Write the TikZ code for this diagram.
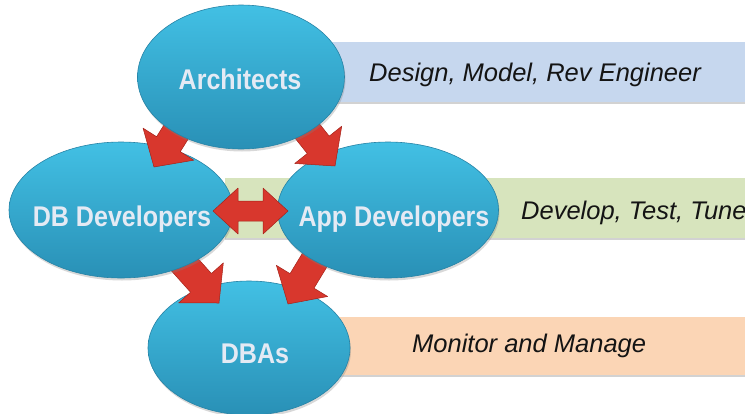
\documentclass[tikz,border=0pt]{standalone}
\usepackage{fontspec}
\setmainfont{Liberation Sans}
\newfontfamily\labelfont[FakeStretch=0.88]{Liberation Sans}
\usetikzlibrary{calc,shadows,shapes.geometric}

\definecolor{ellTop}{HTML}{42C0E4}
\definecolor{ellBot}{HTML}{2990B6}
\definecolor{ellRim}{HTML}{2683A6}
\definecolor{lblCol}{HTML}{E4EAF4}
\definecolor{arrRed}{HTML}{D8372D}
\definecolor{arrDark}{HTML}{A52219}
\definecolor{barBlue}{HTML}{C6D7EE}
\definecolor{barGreen}{HTML}{D7E4BD}
\definecolor{barOrange}{HTML}{FBD5B5}

\tikzset{
  role/.style={ellipse, inner sep=0pt, top color=ellTop, bottom color=ellBot,
    draw=ellRim, line width=0.6pt,
    drop shadow={opacity=0.3, shadow xshift=1pt, shadow yshift=-2.5pt}},
  rolelabel/.style={inner sep=0pt, anchor=base, text=lblCol,
    font=\labelfont\bfseries\fontsize{28.5}{32}\selectfont},
  bar/.style={draw=none, inner sep=0pt,
    drop shadow={opacity=0.35, shadow xshift=0pt, shadow yshift=-2pt}},
  bartext/.style={inner sep=0pt, anchor=base west, text=black!92,
    font=\itshape\fontsize{25.5}{30}\selectfont},
  blockarr/.style={fill=arrRed, draw=arrDark, line width=0.5pt, line join=round}
}

% single block arrow: id, start, tip, shaft half-width, head half-width, head length
\newcommand\blockarrow[6]{%
  \coordinate (#1b) at ($(#3)!#6!(#2)$);
  \draw[blockarr] ($(#2)!#4!90:(#3)$) -- ($(#1b)!#4!90:(#3)$) -- ($(#1b)!#5!90:(#3)$)
    -- (#3) -- ($(#1b)!#5!-90:(#3)$) -- ($(#1b)!#4!-90:(#3)$) -- ($(#2)!#4!-90:(#3)$) -- cycle;
}
% double block arrow: id, tip A, tip B, shaft half-width, head half-width, head length
\newcommand\dblarrow[6]{%
  \coordinate (#1a) at ($(#2)!#6!(#3)$);
  \coordinate (#1b) at ($(#3)!#6!(#2)$);
  \draw[blockarr] (#2) -- ($(#1a)!#5!90:(#3)$) -- ($(#1a)!#4!90:(#3)$)
    -- ($(#1b)!#4!-90:(#2)$) -- ($(#1b)!#5!-90:(#2)$) -- (#3)
    -- ($(#1b)!#5!90:(#2)$) -- ($(#1b)!#4!90:(#2)$)
    -- ($(#1a)!#4!-90:(#3)$) -- ($(#1a)!#5!-90:(#3)$) -- cycle;
}

\begin{document}
\begin{tikzpicture}[x=1pt, y=-1pt]
\fill[white] (0,0) rectangle (745,413);
\useasboundingbox (0,0) rectangle (745,413);

\begin{scope}
\clip (0,0) rectangle (745,413);
% bars
\fill[bar, barBlue] (300,42) rectangle (745,102);
\fill[bar, barGreen] (225,178) rectangle (745,238);
\fill[bar, barOrange] (300,317) rectangle (745,375);
\node[bartext] (t1) at (369,81) {Design, Model, Rev Engineer};
\node[bartext] (t2) at (521,219) {Develop, Test, Tune};
\node[bartext] (t3) at (412,352) {Monitor and Manage};

% DBAs
\node[role, minimum width=202pt, minimum height=134pt] (dba) at (249,348) {};
\coordinate (ldS) at (176,255);
\coordinate (ldT) at (219,303);
\coordinate (rdS) at (322,248);
\coordinate (rdT) at (288,304);
\blockarrow{ld}{ldS}{ldT}{14pt}{30pt}{27pt}
\blockarrow{rd}{rdS}{rdT}{14pt}{30pt}{27pt}

% developers
\node[role, minimum width=224pt, minimum height=136pt] (dbdev) at (121,210) {};
\node[role, minimum width=221pt, minimum height=136pt] (appdev) at (388,210) {};
\coordinate (ltS) at (190,110);
\coordinate (ltT) at (154,167);
\coordinate (rtS) at (293,113);
\coordinate (rtT) at (335,166);
\blockarrow{lt}{ltS}{ltT}{14pt}{30pt}{27pt}
\blockarrow{rt}{rtS}{rtT}{14pt}{30pt}{27pt}

% architects
\node[role, minimum width=207pt, minimum height=144pt] (arch) at (241,77) {};

% double arrow between developers
\coordinate (dL) at (213,211);
\coordinate (dR) at (288,211);
\dblarrow{dd}{dL}{dR}{10pt}{23pt}{25pt}

% labels
\node[rolelabel] (archL) at (240,89) {Architects};
\node[rolelabel] (dbdevL) at (122,226) {DB Developers};
\node[rolelabel] (appdevL) at (394,226) {App Developers};
\node[rolelabel] (dbaL) at (255,363) {DBAs};
\end{scope}
\end{tikzpicture}
\end{document}
